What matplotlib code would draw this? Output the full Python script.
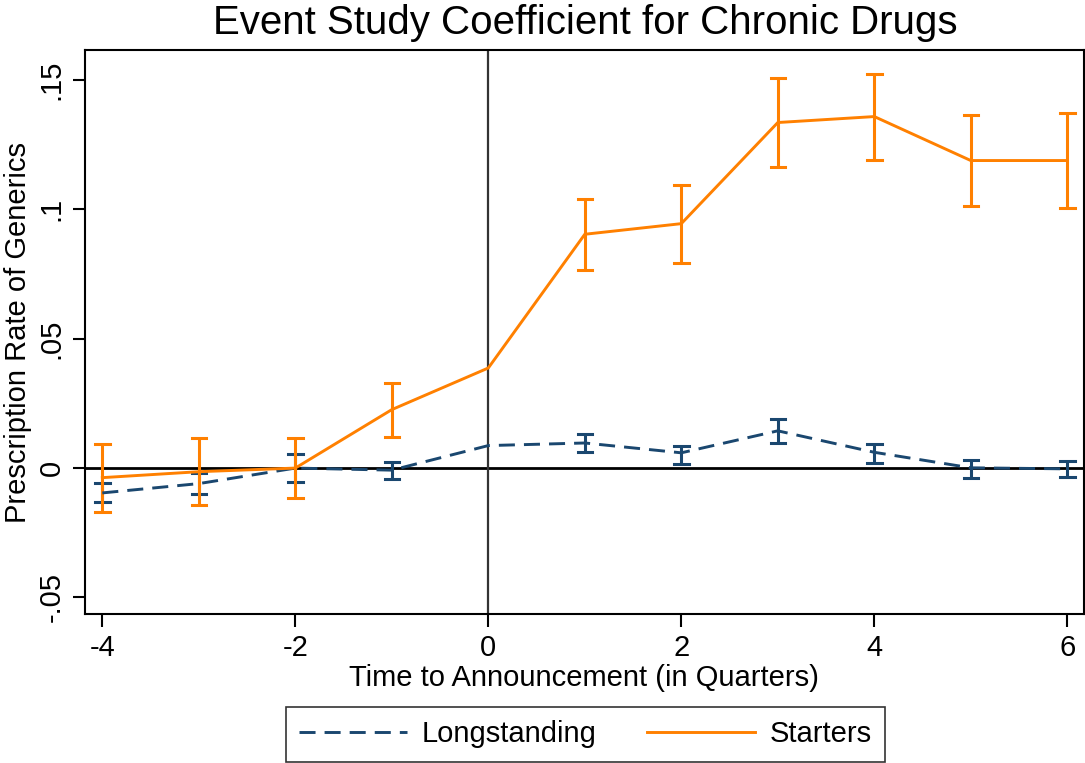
import numpy as np
import matplotlib.pyplot as plt
from matplotlib.lines import Line2D

plt.rcParams['font.family'] = ['Liberation Sans', 'DejaVu Sans']

# event time (quarters relative to announcement)
quarters = np.array([-4, -3, -2, -1, 0, 1, 2, 3, 4, 5, 6])

# point estimates
long_coef = np.array([-0.0096, -0.0060, 0.0, -0.0008, 0.0087, 0.0097, 0.0059, 0.0144, 0.0061, 0.0001, -0.0003])
start_coef = np.array([-0.0037, -0.0014, 0.0, 0.0226, 0.0387, 0.0904, 0.0945, 0.1336, 0.1359, 0.1189, 0.1189])

# 95% CI bounds (quarter 0 is the reference period, no interval)
long_lo = np.array([-0.0133, -0.0101, -0.0054, -0.0042, np.nan, 0.0063, 0.0014, 0.0098, 0.0018, -0.0037, -0.0033])
long_hi = np.array([-0.0057, -0.0020, 0.0056, 0.0024, np.nan, 0.0133, 0.0087, 0.0190, 0.0095, 0.0030, 0.0027])
start_lo = np.array([-0.0169, -0.0141, -0.0114, 0.0120, np.nan, 0.0766, 0.0793, 0.1165, 0.1190, 0.1015, 0.1005])
start_hi = np.array([0.0095, 0.0116, 0.0116, 0.0330, np.nan, 0.1042, 0.1096, 0.1507, 0.1525, 0.1365, 0.1374])

xticks = [-4, -2, 0, 2, 4, 6]
yticks = [-0.05, 0, 0.05, 0.1, 0.15]
ytick_labels = ['-.05', '0', '.05', '.1', '.15']

navy = '#1a476f'
orange = '#ff8000'
dash = (0, (5.5, 3.1))

fig = plt.figure(figsize=(10.85, 7.63), dpi=100)
ax = fig.add_axes([0.0783, 0.195, 0.9205, 0.739])

ax.axhline(0, color='black', lw=2, zorder=1)
ax.axvline(0, color='#333333', lw=1.6, zorder=1)


def draw_series(y, lo, hi, color, ls):
    ok = ~np.isnan(lo)
    ax.vlines(quarters[ok], lo[ok], hi[ok], color=color, lw=2.2, zorder=3)
    # caps at both ends of each interval
    for q, a, b in zip(quarters[ok], lo[ok], hi[ok]):
        ax.plot([q - 0.075, q + 0.075], [a, a], color=color, lw=2.2, zorder=3)
        ax.plot([q - 0.075, q + 0.075], [b, b], color=color, lw=2.2, zorder=3)
    ax.plot(quarters, y, color=color, lw=2.1, ls=ls, zorder=4)


draw_series(long_coef, long_lo, long_hi, navy, dash)
draw_series(start_coef, start_lo, start_hi, orange, '-')

ax.set_xlim(-4.18, 6.17)
ax.set_ylim(-0.0565, 0.1615)
ax.set_xticks(xticks)
ax.set_xticklabels([str(t) for t in xticks], fontsize=21)
ax.set_yticks(yticks)
ax.set_yticklabels(ytick_labels, fontsize=21, rotation=90, va='center')
ax.tick_params(length=9, width=1.5, pad=5)
for s in ax.spines.values():
    s.set_linewidth(1.5)

ax.set_xlabel('Time to Announcement (in Quarters)', fontsize=21, labelpad=2)
ax.set_ylabel('Prescription Rate of Generics', fontsize=21, labelpad=4)
fig.suptitle('Event Study Coefficient for Chronic Drugs', fontsize=29,
             x=0.539, y=0.995)

handles = [Line2D([], [], color=navy, lw=2.1, ls=dash),
           Line2D([], [], color=orange, lw=2.1)]
leg = fig.legend(handles, ['Longstanding', 'Starters'], loc='lower center',
                 bbox_to_anchor=(0.5395, 0.0), ncol=2, fontsize=21,
                 frameon=True, fancybox=False, edgecolor='black',
                 handlelength=3.7, handletextpad=0.5, columnspacing=1.75,
                 borderpad=0.45, borderaxespad=0.05)
leg.get_frame().set_linewidth(1.2)

fig.savefig('out.png', dpi=100)
